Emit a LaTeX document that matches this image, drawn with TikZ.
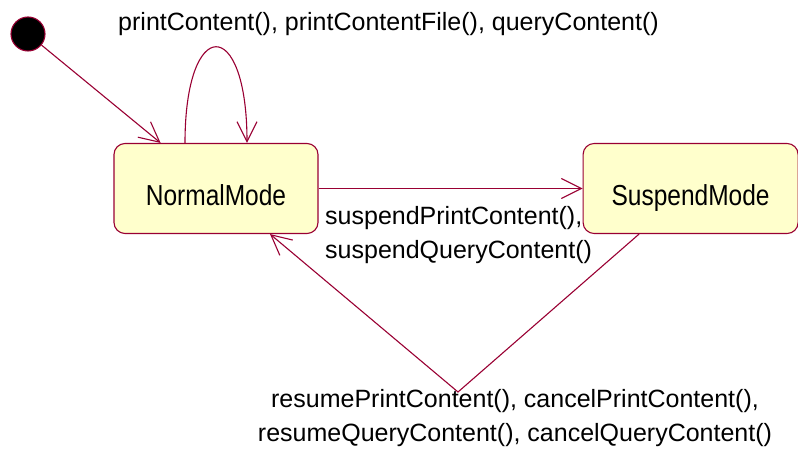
\documentclass[tikz,border=0pt]{standalone}
\usepackage{fontspec}
\setmainfont{Liberation Sans}
\usepackage{graphicx}
\usepackage{xcolor}
\usepackage{tikz}
\usetikzlibrary{positioning, arrows.meta}

\definecolor{umlline}{RGB}{153,0,51}
\definecolor{umlfill}{RGB}{255,255,204}

\newcommand{\statetext}[1]{\scalebox{1}[1.18]{#1}}

\begin{document}
\begin{tikzpicture}[
    x=1pt, y=1pt,
    font=\fontsize{25}{34}\selectfont,
    state/.style={draw=umlline, line width=1.1pt, rounded corners=11pt, fill=umlfill, minimum height=90pt, inner sep=0pt, text height=35pt, text depth=0pt, font=\fontsize{24.5}{34}\selectfont},
    arrow/.style={-{Straight Barb[length=20pt, width=20pt]}, draw=umlline, line width=1.1pt},
    lbl/.style={inner sep=0pt, align=center}
]
\useasboundingbox (0,0) rectangle (798,452);
\node[circle, draw=umlline, fill=black, line width=1.1pt, minimum size=34pt, inner sep=0pt] (init) at (28,418) {};
\node[state, minimum width=204pt] (normal) at (216,263.5) {\statetext{NormalMode}};
\node[state, minimum width=215pt, right=264pt of normal] (suspend) {\statetext{SuspendMode}};
\coordinate (bend) at (458,60);

\draw[arrow] (init) -- (normal);
\draw[arrow] ([xshift=-31pt]normal.north) .. controls +(0,128) and +(0,128) .. ([xshift=31pt]normal.north);
\draw[arrow] (normal) -- (suspend);
\draw[arrow] ([xshift=-51.5pt]suspend.south) -- (bend) -- ([xshift=54pt]normal.south);

\node[lbl] (selflbl) at (388.5,428) {printContent(), printContentFile(), queryContent()};
\node[lbl, align=left, anchor=west] (suspendlbl) at (325,216.5) {suspendPrintContent(),\\suspendQueryContent()};
\node[lbl] (resumelbl) at (515,33.5) {resumePrintContent(), cancelPrintContent(),\\resumeQueryContent(), cancelQueryContent()};
\end{tikzpicture}
\end{document}
